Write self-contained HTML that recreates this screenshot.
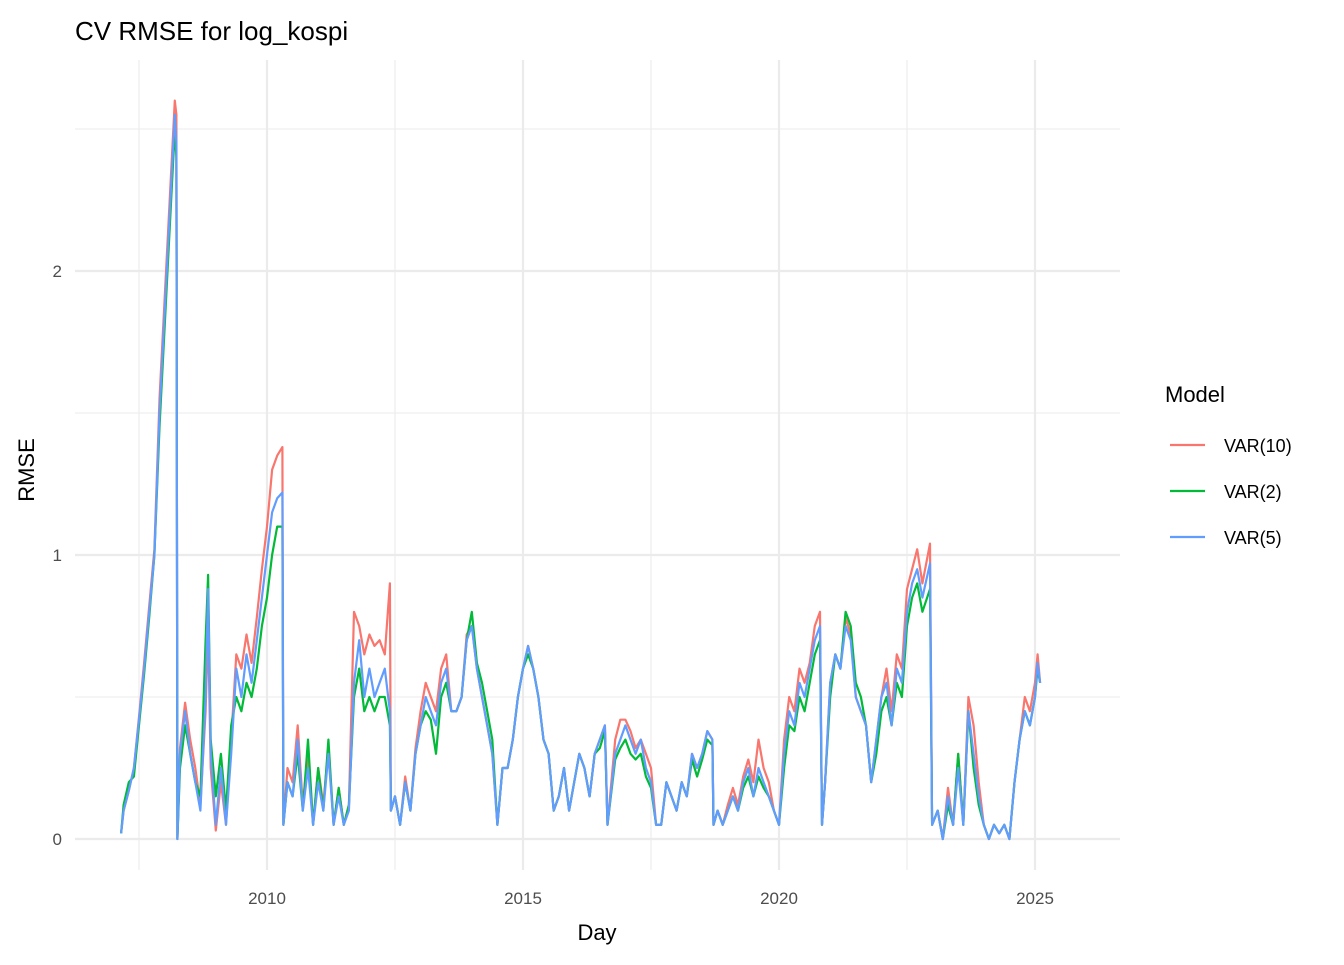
<!DOCTYPE html>
<html><head><meta charset="utf-8"><style>
body{margin:0;background:#fff;}
svg text{font-family:"Liberation Sans",Arial,sans-serif;}
</style></head><body>
<svg id="chart" width="1344" height="960" viewBox="0 0 1344 960">
<rect width="1344" height="960" fill="#fff"/>
<g id="grid"></g>
<g id="series"></g>
<g id="axes"></g>
<text x="75" y="40" font-size="26" fill="#000">CV RMSE for log_kospi</text>
<text x="597" y="940" font-size="22" text-anchor="middle" fill="#000">Day</text>
<text x="0" y="0" font-size="22" text-anchor="middle" fill="#000" transform="translate(34,470) rotate(-90)">RMSE</text>
<g>
<text x="1165" y="402" font-size="22" fill="#000">Model</text>
<g><line x1="1170" y1="445" x2="1205" y2="445" stroke="#F8766D" stroke-width="2.2"/><text x="1224" y="452" font-size="18" fill="#000">VAR(10)</text></g>
<g><line x1="1170" y1="491" x2="1205" y2="491" stroke="#00BA38" stroke-width="2.2"/><text x="1224" y="498" font-size="18" fill="#000">VAR(2)</text></g>
<g><line x1="1170" y1="537" x2="1205" y2="537" stroke="#619CFF" stroke-width="2.2"/><text x="1224" y="544" font-size="18" fill="#000">VAR(5)</text></g>
</g>
</svg>
<script>
const dates=[2007.15,2007.2,2007.3,2007.4,2007.5,2007.6,2007.7,2007.8,2007.9,2008.0,2008.1,2008.2,2008.23,2008.25,2008.3,2008.4,2008.5,2008.6,2008.7,2008.8,2008.85,2008.9,2009.0,2009.1,2009.2,2009.3,2009.4,2009.5,2009.6,2009.7,2009.8,2009.9,2010.0,2010.1,2010.2,2010.3,2010.32,2010.4,2010.5,2010.6,2010.7,2010.8,2010.9,2011.0,2011.1,2011.2,2011.3,2011.4,2011.5,2011.6,2011.7,2011.8,2011.9,2012.0,2012.1,2012.2,2012.3,2012.4,2012.42,2012.5,2012.6,2012.7,2012.8,2012.9,2013.0,2013.1,2013.2,2013.3,2013.4,2013.5,2013.6,2013.7,2013.8,2013.9,2014.0,2014.1,2014.2,2014.3,2014.4,2014.5,2014.6,2014.7,2014.8,2014.9,2015.0,2015.1,2015.2,2015.3,2015.4,2015.5,2015.6,2015.7,2015.8,2015.9,2016.0,2016.1,2016.2,2016.3,2016.4,2016.5,2016.6,2016.65,2016.8,2016.9,2017.0,2017.1,2017.2,2017.3,2017.4,2017.5,2017.6,2017.7,2017.8,2017.9,2018.0,2018.1,2018.2,2018.3,2018.4,2018.5,2018.6,2018.7,2018.72,2018.8,2018.9,2019.0,2019.1,2019.2,2019.3,2019.4,2019.5,2019.6,2019.7,2019.8,2019.9,2020.0,2020.1,2020.2,2020.3,2020.4,2020.5,2020.6,2020.7,2020.8,2020.84,2020.9,2021.0,2021.1,2021.2,2021.3,2021.4,2021.5,2021.6,2021.7,2021.8,2021.9,2022.0,2022.1,2022.2,2022.3,2022.4,2022.5,2022.6,2022.7,2022.8,2022.95,2022.99,2023.1,2023.2,2023.3,2023.4,2023.5,2023.6,2023.7,2023.8,2023.9,2024.0,2024.1,2024.2,2024.3,2024.4,2024.5,2024.6,2024.7,2024.8,2024.9,2025.0,2025.05,2025.1];
const var5=[0.02,0.1,0.17,0.25,0.42,0.6,0.8,1.0,1.5,1.85,2.2,2.55,2.45,0.0,0.3,0.45,0.3,0.2,0.1,0.5,0.88,0.3,0.05,0.25,0.05,0.3,0.6,0.5,0.65,0.55,0.7,0.85,1.0,1.15,1.2,1.22,0.05,0.2,0.15,0.35,0.1,0.25,0.05,0.2,0.1,0.3,0.05,0.15,0.05,0.1,0.55,0.7,0.5,0.6,0.5,0.55,0.6,0.45,0.1,0.15,0.05,0.2,0.1,0.3,0.4,0.5,0.45,0.4,0.55,0.6,0.45,0.45,0.5,0.7,0.75,0.6,0.5,0.4,0.3,0.05,0.25,0.25,0.35,0.5,0.6,0.68,0.6,0.5,0.35,0.3,0.1,0.15,0.25,0.1,0.2,0.3,0.25,0.15,0.3,0.35,0.4,0.05,0.3,0.35,0.4,0.35,0.3,0.35,0.25,0.2,0.05,0.05,0.2,0.15,0.1,0.2,0.15,0.3,0.25,0.3,0.38,0.35,0.05,0.1,0.05,0.1,0.15,0.1,0.2,0.25,0.15,0.25,0.2,0.15,0.1,0.05,0.3,0.45,0.4,0.55,0.5,0.6,0.7,0.75,0.05,0.2,0.55,0.65,0.6,0.75,0.7,0.5,0.45,0.4,0.2,0.35,0.5,0.55,0.4,0.6,0.55,0.8,0.9,0.95,0.85,0.97,0.05,0.1,0.0,0.15,0.05,0.25,0.05,0.45,0.3,0.15,0.05,0.0,0.05,0.02,0.05,0.0,0.2,0.35,0.45,0.4,0.5,0.62,0.55];
const var10=[0.02,0.1,0.17,0.25,0.43,0.62,0.82,1.02,1.55,1.9,2.25,2.6,2.55,0.0,0.32,0.48,0.35,0.25,0.12,0.45,0.75,0.25,0.03,0.2,0.05,0.35,0.65,0.6,0.72,0.62,0.78,0.95,1.1,1.3,1.35,1.38,0.05,0.25,0.2,0.4,0.12,0.3,0.05,0.25,0.12,0.32,0.05,0.18,0.05,0.12,0.8,0.75,0.65,0.72,0.68,0.7,0.65,0.9,0.1,0.15,0.05,0.22,0.1,0.32,0.45,0.55,0.5,0.45,0.6,0.65,0.45,0.45,0.5,0.72,0.75,0.6,0.5,0.4,0.3,0.05,0.25,0.25,0.35,0.5,0.6,0.68,0.6,0.5,0.35,0.3,0.1,0.15,0.25,0.1,0.2,0.3,0.25,0.15,0.3,0.35,0.4,0.05,0.35,0.42,0.42,0.38,0.32,0.35,0.3,0.25,0.05,0.05,0.2,0.15,0.1,0.2,0.15,0.3,0.25,0.3,0.38,0.35,0.05,0.1,0.05,0.12,0.18,0.12,0.22,0.28,0.2,0.35,0.25,0.2,0.1,0.05,0.35,0.5,0.45,0.6,0.55,0.62,0.75,0.8,0.05,0.2,0.55,0.65,0.6,0.78,0.72,0.5,0.45,0.4,0.2,0.35,0.5,0.6,0.45,0.65,0.6,0.88,0.95,1.02,0.9,1.04,0.05,0.1,0.0,0.18,0.05,0.3,0.05,0.5,0.4,0.2,0.05,0.0,0.05,0.02,0.05,0.0,0.2,0.35,0.5,0.45,0.55,0.65,0.55];
const var2=[0.02,0.12,0.2,0.22,0.4,0.58,0.78,1.0,1.45,1.8,2.15,2.5,2.4,0.0,0.25,0.4,0.3,0.2,0.15,0.7,0.93,0.35,0.15,0.3,0.1,0.4,0.5,0.45,0.55,0.5,0.6,0.75,0.85,1.0,1.1,1.1,0.05,0.2,0.15,0.3,0.1,0.35,0.05,0.25,0.1,0.35,0.05,0.18,0.05,0.12,0.5,0.6,0.45,0.5,0.45,0.5,0.5,0.4,0.1,0.15,0.05,0.2,0.1,0.3,0.4,0.45,0.42,0.3,0.5,0.55,0.45,0.45,0.5,0.7,0.8,0.62,0.55,0.45,0.35,0.05,0.25,0.25,0.35,0.5,0.6,0.65,0.6,0.5,0.35,0.3,0.1,0.15,0.25,0.1,0.2,0.3,0.25,0.15,0.3,0.32,0.38,0.05,0.28,0.32,0.35,0.3,0.28,0.3,0.22,0.18,0.05,0.05,0.2,0.15,0.1,0.2,0.15,0.28,0.22,0.28,0.35,0.33,0.05,0.1,0.05,0.1,0.15,0.1,0.18,0.22,0.15,0.22,0.18,0.15,0.1,0.05,0.25,0.4,0.38,0.5,0.45,0.55,0.65,0.7,0.05,0.2,0.5,0.65,0.6,0.8,0.75,0.55,0.5,0.4,0.2,0.3,0.45,0.5,0.4,0.55,0.5,0.75,0.85,0.9,0.8,0.88,0.05,0.1,0.0,0.12,0.05,0.3,0.05,0.45,0.25,0.12,0.05,0.0,0.05,0.02,0.05,0.0,0.2,0.35,0.45,0.4,0.5,0.6,0.55];
const yTicks=[0,1,2];
const yMinor=[0.5,1.5,2.5];
const xTicks=[2010,2015,2020,2025];
const xMinor=[2007.5,2012.5,2017.5,2022.5];

const NS='http://www.w3.org/2000/svg';
const L=75,R=1120,T=60,B=870;
function sx(t){return 267+(t-2010)*51.2;}
function sy(v){return 839-v*284;}
function mk(tag,attrs,parent){const e=document.createElementNS(NS,tag);for(const k in attrs)e.setAttribute(k,attrs[k]);parent.appendChild(e);return e;}
const grid=document.getElementById('grid');
yMinor.forEach(v=>{const l=mk('line',{x1:L,x2:R,y1:sy(v),y2:sy(v),stroke:'#EBEBEB','stroke-width':1.1},grid);

});
xMinor.forEach(v=>{const l=mk('line',{x1:sx(v),x2:sx(v),y1:T,y2:B,stroke:'#EBEBEB','stroke-width':1.1},grid);

});
yTicks.forEach(v=>{const l=mk('line',{x1:L,x2:R,y1:sy(v),y2:sy(v),stroke:'#EBEBEB','stroke-width':2.2},grid);

});
xTicks.forEach(v=>{const l=mk('line',{x1:sx(v),x2:sx(v),y1:T,y2:B,stroke:'#EBEBEB','stroke-width':2.2},grid);

});
const axes=document.getElementById('axes');
yTicks.forEach(v=>{const t=mk('text',{x:62,y:sy(v)+6,'font-size':17,fill:'#4D4D4D','text-anchor':'end'},axes);t.textContent=v;

});
xTicks.forEach(v=>{const t=mk('text',{x:sx(v),y:904,'font-size':17,fill:'#4D4D4D','text-anchor':'middle'},axes);t.textContent=v;

});
const ser=document.getElementById('series');
function draw(vals,color,name){
  const d=vals.map((v,i)=>(i?'L':'M')+sx(dates[i]).toFixed(1)+' '+sy(v).toFixed(1)).join(' ');
  const p=mk('path',{d:d,fill:'none',stroke:color,'stroke-width':2.2,'stroke-linejoin':'round'},ser);
  
  
}
draw(var10,'#F8766D','line-var10');
draw(var2,'#00BA38','line-var2');
draw(var5,'#619CFF','line-var5');
</script>
</body></html>
